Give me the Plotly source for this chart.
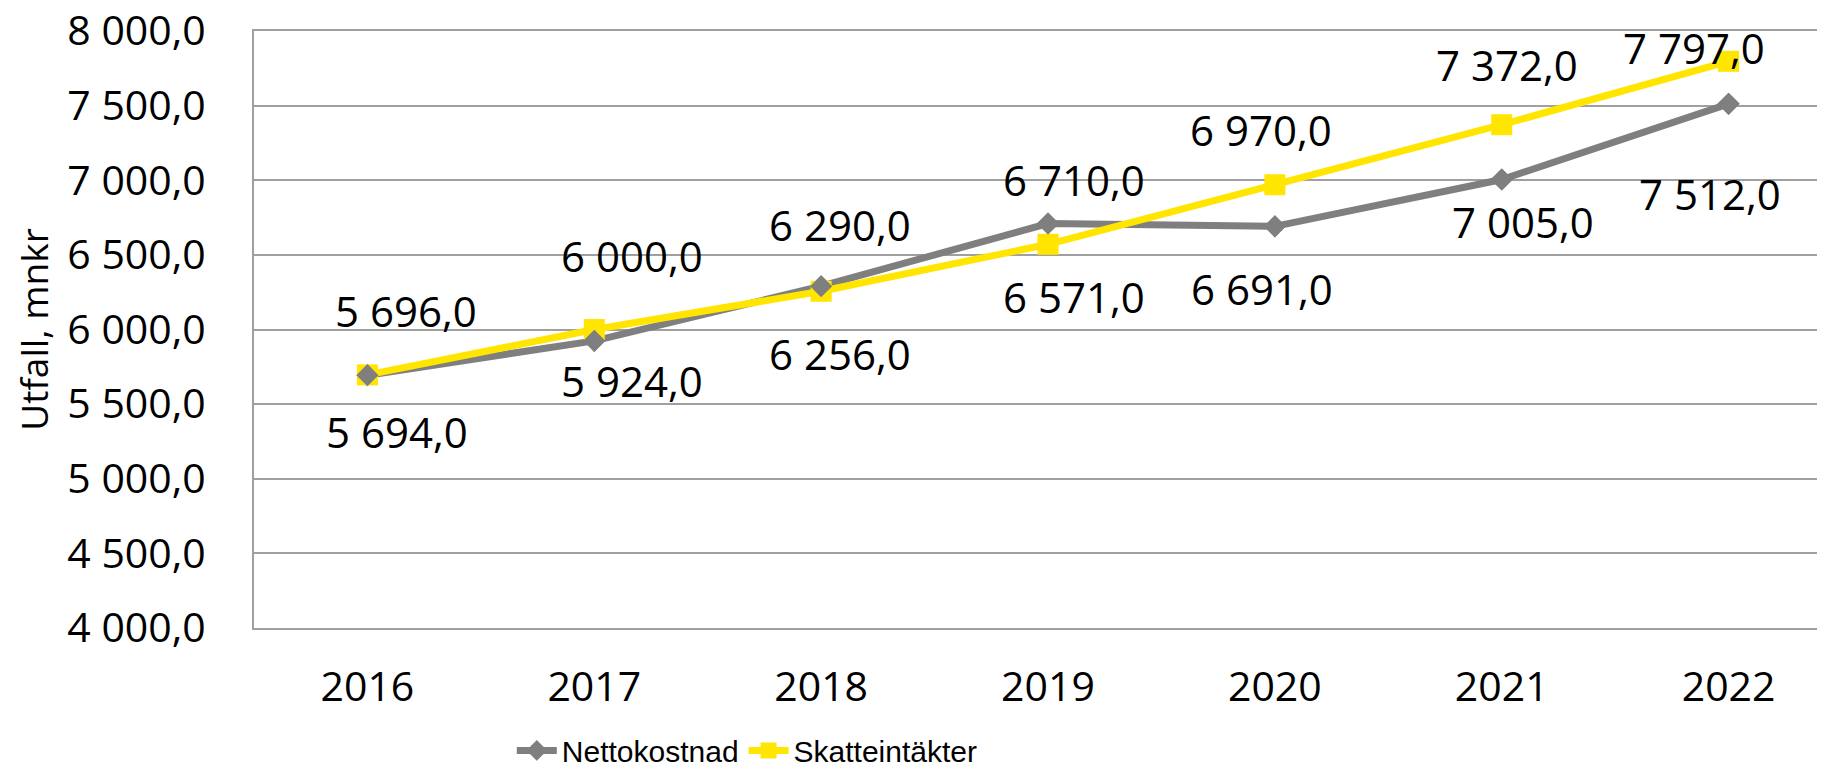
import plotly.graph_objects as go

years = ["2016", "2017", "2018", "2019", "2020", "2021", "2022"]
nettokostnad = [5694, 5924, 6290, 6710, 6691, 7005, 7512]
skatteintakter = [5696, 6000, 6256, 6571, 6970, 7372, 7797]
y_ticks = [4000, 4500, 5000, 5500, 6000, 6500, 7000, 7500, 8000]

# label pixel offsets (x: positive = right, y: positive = up)
netto_xshift = [30, 38, 19, 26, -13, 21, -19]
netto_yshift = [-56, -40, 62, 44, -62, -42, -90]
skatt_xshift = [39, 38, 19, 26, -14, 5, -35]
skatt_yshift = [64, 74, -62, -52, 55, 60, 14]

GRAY = "#7F7F7F"
YELLOW = "#FFE500"
GRID = "#A0A0A0"
FONT = "Open Sans"


def fmt(v):
    return f"{v:,.1f}".replace(",", " ").replace(".", ",")


fig = go.Figure()
fig.add_trace(go.Scatter(
    x=years, y=nettokostnad, name="Nettokostnad", mode="lines+markers",
    line=dict(color=GRAY, width=7),
    marker=dict(symbol="diamond", size=17, color=GRAY),
))
fig.add_trace(go.Scatter(
    x=years, y=skatteintakter, name="Skatteintäkter", mode="lines+markers",
    line=dict(color=YELLOW, width=7),
    marker=dict(symbol="square", size=21, color=YELLOW),
))
fig.add_trace(go.Scatter(
    x=years, y=nettokostnad, mode="markers", showlegend=False,
    marker=dict(symbol="diamond", size=17, color=GRAY),
))

for i in range(len(years)):
    fig.add_annotation(x=i, y=nettokostnad[i], text=fmt(nettokostnad[i]),
                       showarrow=False, xshift=netto_xshift[i], yshift=netto_yshift[i],
                       font=dict(family=FONT, size=42, color="#000000"))
    fig.add_annotation(x=i, y=skatteintakter[i], text=fmt(skatteintakter[i]),
                       showarrow=False, xshift=skatt_xshift[i], yshift=skatt_yshift[i],
                       font=dict(family=FONT, size=42, color="#000000"))

fig.update_layout(
    width=1817, height=763,
    margin=dict(l=246, r=0, t=23, b=143, autoexpand=False),
    paper_bgcolor="white", plot_bgcolor="white",
    separators=", ",
    font=dict(family=FONT, color="#000000"),
    showlegend=True,
    legend=dict(
        orientation="h", x=0.314, y=-0.205, xanchor="center", yanchor="middle",
        font=dict(family="Liberation Sans", size=30, color="#000000"),
        itemwidth=40, tracegroupgap=0,
    ),
    xaxis=dict(
        type="category", range=[-0.5, 6.425],
        showgrid=False, zeroline=False,
        showline=True, mirror=True, linecolor=GRID, linewidth=2,
        tickfont=dict(family=FONT, size=41, color="#000000"),
        ticks="", ticklabelstandoff=22,
    ),
    yaxis=dict(
        range=[4000, 8000], tickvals=y_ticks, tickformat=",.1f",
        showgrid=True, gridcolor=GRID, gridwidth=2,
        zeroline=False, showline=True, linecolor=GRID, linewidth=2,
        tickfont=dict(family=FONT, size=41, color="#000000"),
        ticks="", ticklabelstandoff=38, ticklabeloverflow="allow",
        title=dict(text="Utfall, mnkr", font=dict(family=FONT, size=37, color="#000000"),
                   standoff=23),
    ),
)

fig.write_html("out.html")
